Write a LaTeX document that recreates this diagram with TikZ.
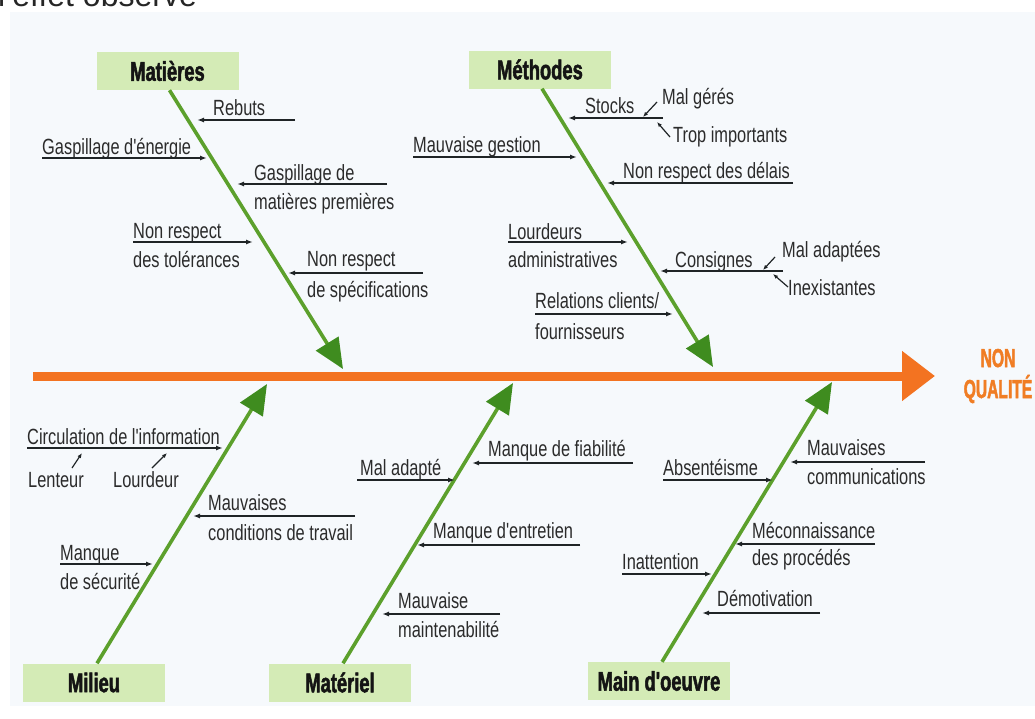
\documentclass[tikz,border=0pt]{standalone}
\usepackage{fontspec}
\setmainfont{Liberation Sans}
\newfontfamily\lblfont[FakeStretch=0.745]{Liberation Sans}
\newfontfamily\catfont[FakeStretch=0.68,BoldFeatures={FakeBold=1.8}]{Liberation Sans}
\newfontfamily\nqfont[FakeStretch=0.6,BoldFeatures={FakeBold=1.8}]{Liberation Sans}
\usetikzlibrary{arrows.meta}
\definecolor{panel}{HTML}{F6F9FC}
\definecolor{orng}{HTML}{F37321}
\definecolor{nqc}{HTML}{F07D24}
\definecolor{boxg}{HTML}{D4EBB6}
\definecolor{gline}{HTML}{5CA02C}
\definecolor{gtip}{HTML}{3F8C1F}
\definecolor{txt}{HTML}{2B2B2B}
\definecolor{arr}{HTML}{1F2426}
\newcommand\causearrow[4]{%
  \coordinate (#1s) at (#2,#4);
  \coordinate (#1e) at (#3,#4);
  \draw[cause] (#1s) -- (#1e);}
\newcommand\subarrow[5]{%
  \coordinate (#1s) at (#2,#3);
  \coordinate (#1e) at (#4,#5);
  \draw[subcause] (#1s) -- (#1e);}
\begin{document}
\begin{tikzpicture}[x=1pt,y=-1pt,
  lbl/.style={anchor=base west, inner sep=0pt, text=txt,
    font=\lblfont\fontsize{22}{26}\selectfont},
  catbox/.style={fill=boxg, minimum width=142pt, minimum height=38pt,
    inner sep=0pt, text=black!92,
    font=\catfont\bfseries\fontsize{27}{30}\selectfont},
  bone/.style={draw=gline, line width=3.6pt,
    -{Triangle[length=30pt,width=26pt,color=gtip]}},
  spine/.style={draw=orng, line width=9pt,
    -{Triangle[length=33pt,width=48pt,color=orng]}},
  cause/.style={draw=arr, line width=1.4pt, -{Latex[length=7pt,width=5pt]}},
  subcause/.style={draw=arr, line width=1.2pt, -{Latex[length=5pt,width=4pt]}}]
\useasboundingbox (0,0) rectangle (1035,718);
\fill[panel] (10,12) rectangle (1035,706);
\node[anchor=base west, inner sep=0pt, text=black!85,
  font=\fontsize{32}{32}\selectfont] (topt) at (-2,6) {l'effet observé};

% spine
\coordinate (spineL) at (33,376);
\coordinate (spineR) at (935,376);
\draw[spine] (spineL) -- (spineR);
\node[text=nqc, align=center, inner sep=0pt,
  font=\nqfont\bfseries\fontsize{26}{31}\selectfont] (nq) at (998,376) {NON\\QUALITÉ};

% category boxes
\node[catbox] (mat) at (167.5,71) {Matières};
\node[catbox] (met) at (540,69.5) {Méthodes};
\node[catbox] (mil) at (94,682.5) {Milieu};
\node[catbox] (mtl) at (340,682.5) {Matériel};
\node[catbox] (mdo) at (659,681) {Main d'oeuvre};

% bones
\coordinate (tMat) at (343,369);
\coordinate (tMet) at (713,367);
\coordinate (tMil) at (267,384);
\coordinate (tMtl) at (513,383);
\coordinate (tMdo) at (832,382);
\draw[bone] ([xshift=2pt]mat.south) -- (tMat);
\draw[bone] ([xshift=2pt]met.south) -- (tMet);
\draw[bone] ([xshift=3pt]mil.north) -- (tMil);
\draw[bone] ([xshift=3pt]mtl.north) -- (tMtl);
\draw[bone] ([xshift=3pt]mdo.north) -- (tMdo);

% Matières
\node[lbl] (c1) at (213,115) {Rebuts};
\causearrow{a1}{295}{197}{120}
\node[lbl] (c2) at (42,154) {Gaspillage d'énergie};
\causearrow{a2}{42}{207}{158}
\node[lbl] (c3a) at (254,180) {Gaspillage de};
\node[lbl] (c3b) at (254,209) {matières premières};
\causearrow{a3}{387}{237}{184}
\node[lbl] (c4a) at (133,238) {Non respect};
\node[lbl] (c4b) at (133,267) {des tolérances};
\causearrow{a4}{133}{253}{242}
\node[lbl] (c5a) at (307,266) {Non respect};
\node[lbl] (c5b) at (307,297) {de spécifications};
\causearrow{a5}{423}{288}{273}

% Méthodes
\node[lbl] (m1) at (585,113) {Stocks};
\causearrow{b1}{663}{568}{118}
\node[lbl] (m1a) at (662,104) {Mal gérés};
\subarrow{s1}{657}{102}{643}{117}
\node[lbl] (m1b) at (673,142) {Trop importants};
\subarrow{s2}{670}{137}{657}{122}
\node[lbl] (m2) at (413,152) {Mauvaise gestion};
\causearrow{b2}{413}{577}{157}
\node[lbl] (m3) at (623,178) {Non respect des délais};
\causearrow{b3}{793}{607}{183}
\node[lbl] (m4a) at (508,239) {Lourdeurs};
\node[lbl] (m4b) at (508,267) {administratives};
\causearrow{b4}{508}{628}{242}
\node[lbl] (m5) at (675,267) {Consignes};
\causearrow{b5}{783}{660}{271}
\node[lbl] (m5a) at (782,257) {Mal adaptées};
\subarrow{s3}{775}{257}{763}{270}
\node[lbl] (m5b) at (788,295) {Inexistantes};
\subarrow{s4}{788}{287}{773}{274}
\node[lbl] (m6a) at (535,308) {Relations clients/};
\node[lbl] (m6b) at (535,339) {fournisseurs};
\causearrow{b6}{535}{673}{314}

% Milieu
\node[lbl] (e1) at (27,444) {Circulation de l'information};
\causearrow{d1}{27}{223}{448}
\node[lbl] (e1a) at (28,487) {Lenteur};
\subarrow{s5}{72}{468}{82}{453}
\node[lbl] (e1b) at (113,487) {Lourdeur};
\subarrow{s6}{152}{468}{167}{453}
\node[lbl] (e2a) at (208,510) {Mauvaises};
\node[lbl] (e2b) at (208,540) {conditions de travail};
\causearrow{d2}{355}{193}{516}
\node[lbl] (e3a) at (60,560) {Manque};
\node[lbl] (e3b) at (60,589) {de sécurité};
\causearrow{d3}{60}{153}{564}

% Matériel
\node[lbl] (f1) at (488,456) {Manque de fiabilité};
\causearrow{g1}{633}{472}{463}
\node[lbl] (f2) at (360,475) {Mal adapté};
\causearrow{g2}{357}{455}{480}
\node[lbl] (f3) at (433,538) {Manque d'entretien};
\causearrow{g3}{580}{417}{545}
\node[lbl] (f4a) at (398,608) {Mauvaise};
\node[lbl] (f4b) at (398,637) {maintenabilité};
\causearrow{g4}{500}{382}{614}

% Main d'oeuvre
\node[lbl] (h1a) at (807,455) {Mauvaises};
\node[lbl] (h1b) at (807,484) {communications};
\causearrow{k1}{925}{790}{462}
\node[lbl] (h2) at (663,475) {Absentéisme};
\causearrow{k2}{663}{773}{480}
\node[lbl] (h3a) at (752,538) {Méconnaissance};
\node[lbl] (h3b) at (752,565) {des procédés};
\causearrow{k3}{875}{735}{544}
\node[lbl] (h4) at (622,569) {Inattention};
\causearrow{k4}{622}{712}{574}
\node[lbl] (h5) at (717,606) {Démotivation};
\causearrow{k5}{820}{702}{613}
\end{tikzpicture}
\end{document}
